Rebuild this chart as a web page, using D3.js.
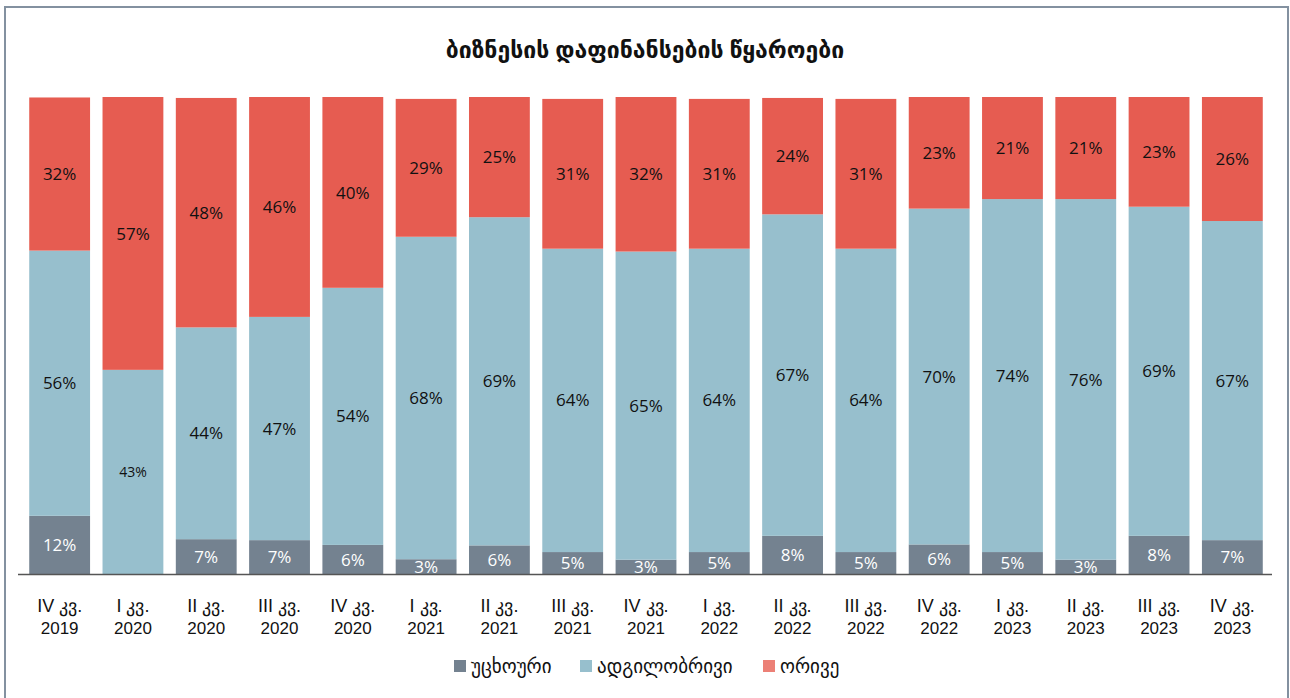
<!DOCTYPE html>
<html>
<head>
<meta charset="utf-8">
<script src="https://cdn.jsdelivr.net/npm/d3@7"></script>
<style>
  body { margin: 0; background: #fff; }
  svg { display: block; font-family: "Open Sans", "DejaVu Sans", sans-serif; }
</style>
</head>
<body>
<div id="chart"></div>
<script>
// Quarters and the three financing-source shares (%)
const quarters = ["IV კვ.|2019", "I კვ.|2020", "II კვ.|2020", "III კვ.|2020", "IV კვ.|2020",
  "I კვ.|2021", "II კვ.|2021", "III კვ.|2021", "IV კვ.|2021", "I კვ.|2022", "II კვ.|2022",
  "III კვ.|2022", "IV კვ.|2022", "I კვ.|2023", "II კვ.|2023", "III კვ.|2023", "IV კვ.|2023"];
const foreign = [12.2, 0, 7.3, 7.1, 6.1, 3.1, 6.0, 4.6, 3.0, 4.6, 8.0, 4.6, 6.2, 4.6, 3.0, 8.0, 7.1];
const local = [55.6, 42.8, 44.4, 46.8, 53.9, 67.6, 68.8, 63.6, 64.6, 63.6, 67.4, 63.6, 70.4, 74.0, 75.6, 69.0, 66.9];
const both = [32.1, 57.2, 48.1, 46.1, 40.0, 28.9, 25.2, 31.4, 32.4, 31.4, 24.4, 31.4, 23.4, 21.4, 21.4, 23.0, 26.0];
const seriesNames = ["უცხოური", "ადგილობრივი", "ორივე"];

const W = 1290, H = 698;
const colors = { "უცხოური": "#748290", "ადგილობრივი": "#97bfcd", "ორივე": "#e65c51" };
const legendColors = { "უცხოური": "#748290", "ადგილობრივი": "#97bfcd", "ორივე": "#ec8076" };

const svg = d3.select("#chart").append("svg")
  .attr("width", W)
  .attr("height", H);

// outer frame
svg.append("rect")
  .attr("x", 5).attr("y", 7)
  .attr("width", 1283).attr("height", 700)
  .attr("fill", "none")
  .attr("stroke", "#8391a0")
  .attr("stroke-width", 2);

// title
svg.append("text")
  .attr("x", 645).attr("y", 58)
  .attr("text-anchor", "middle")
  .attr("font-size", 23)
  .attr("font-weight", "bold")
  .attr("fill", "#111")
  .text("ბიზნესის დაფინანსების წყაროები");

const rows = quarters.map((q, i) => ({
  q: q,
  "უცხოური": foreign[i],
  "ადგილობრივი": local[i],
  "ორივე": both[i]
}));

const x = d3.scaleBand()
  .domain(quarters)
  .range([23, 1269])
  .paddingInner(0.17)
  .paddingOuter(0.085);

const y = d3.scaleLinear()
  .domain([0, 100])
  .range([574, 97]);

const stack = d3.stack().keys(seriesNames);
const layers = stack(rows);

const layerG = svg.append("g").selectAll("g")
  .data(layers)
  .join("g")
  .attr("fill", d => colors[d.key]);

layerG.selectAll("rect")
  .data(d => d)
  .join("rect")
  .attr("x", d => x(d.data.q))
  .attr("width", x.bandwidth())
  .attr("y", d => y(d[1]))
  .attr("height", d => y(d[0]) - y(d[1]));

// value labels
layers.forEach(layer => {
  svg.append("g").selectAll("text")
    .data(layer.filter(d => d[1] - d[0] > 0))
    .join("text")
    .attr("x", d => x(d.data.q) + x.bandwidth() / 2)
    .attr("y", d => (y(d[0]) + y(d[1])) / 2)
    .attr("dy", "0.36em")
    .attr("text-anchor", "middle")
    .attr("font-size", d => (layer.key === "ადგილობრივი" && d.data.q === "I კვ.|2020") ? 14 : 17)
    .attr("fill", layer.key === "უცხოური" ? "#fff" : "#111")
    .text(d => Math.round(d[1] - d[0]) + "%");
});

// x axis
const xAxis = svg.append("g")
  .attr("transform", "translate(0,574)")
  .call(d3.axisBottom(x).tickSize(0).tickPadding(0));

xAxis.select(".domain")
  .attr("d", "M18,0.5H1272")
  .attr("stroke", "#555")
  .attr("stroke-width", 1.5);

xAxis.selectAll(".tick text").remove();
xAxis.selectAll(".tick").append("text")
  .attr("text-anchor", "middle")
  .attr("fill", "#111")
  .attr("font-size", 17)
  .each(function(d) {
    const parts = d.split("|");
    const t = d3.select(this);
    t.append("tspan").attr("x", 0).attr("y", 38).attr("font-size", 18).text(parts[0]);
    t.append("tspan").attr("x", 0).attr("y", 60).text(parts[1]);
  });

// legend
const legendX = [454, 580, 763];
const legend = svg.append("g");
seriesNames.forEach((name, i) => {
  legend.append("rect")
    .attr("x", legendX[i]).attr("y", 660)
    .attr("width", 12).attr("height", 12)
    .attr("fill", legendColors[name]);
  legend.append("text")
    .attr("x", legendX[i] + 17).attr("y", 673)
    .attr("font-size", 19)
    .attr("fill", "#111")
    .text(name);
});
</script>
</body>
</html>
